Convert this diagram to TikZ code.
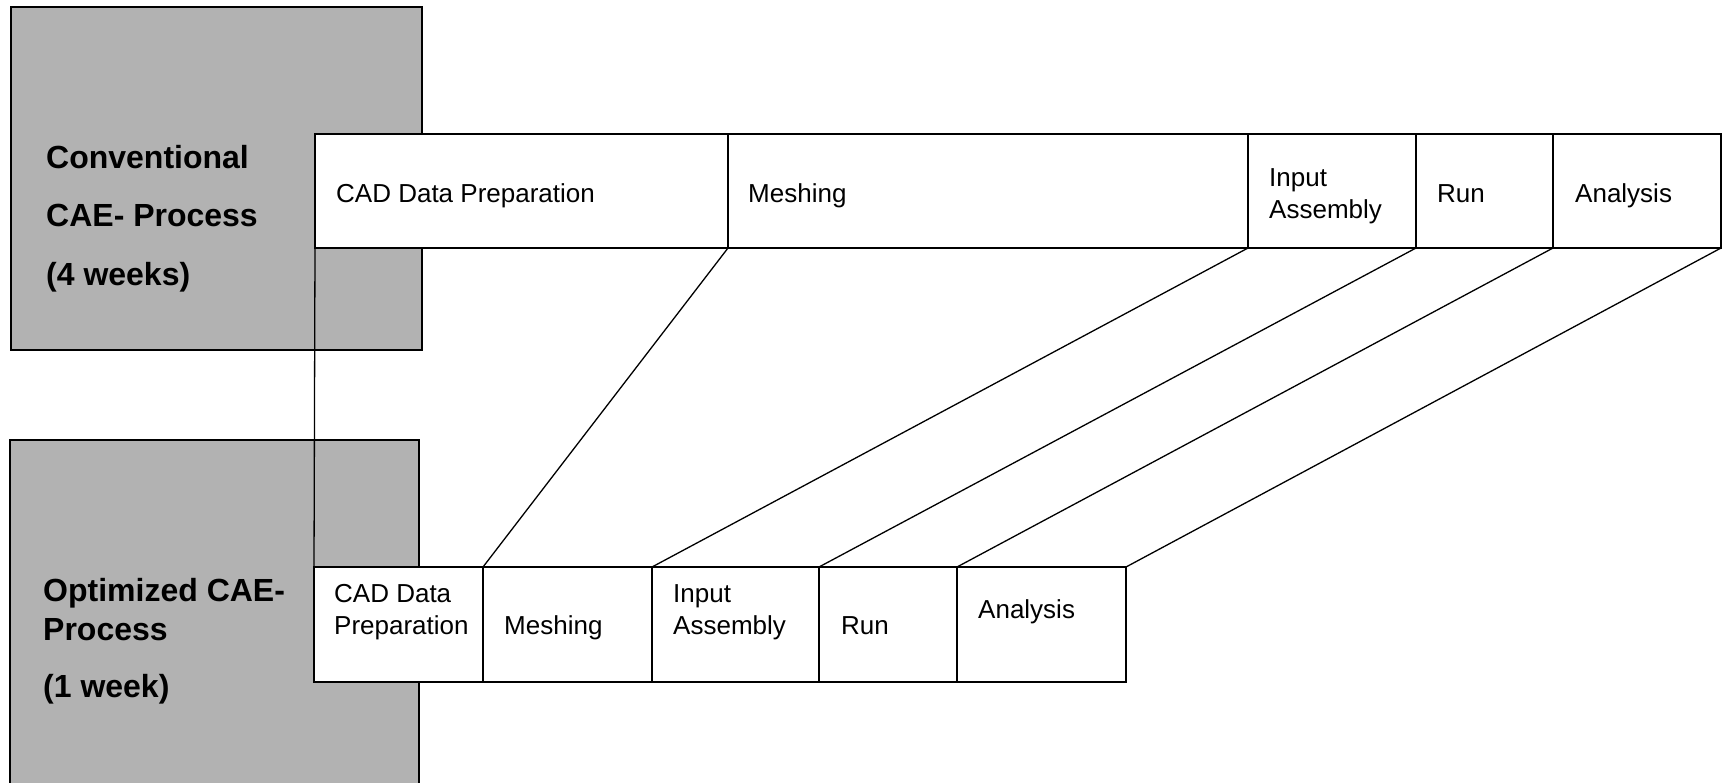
\documentclass[tikz,border=0pt]{standalone}
\usepackage{fontspec}
\setmainfont{Liberation Sans}
\definecolor{panelgray}{RGB}{178,178,178}
\begin{document}
\begin{tikzpicture}[x=1pt,y=-1pt,
  panel/.style={draw=black, line width=1.5pt, fill=panelgray, anchor=north west, inner sep=0pt, outer sep=0pt},
  cell/.style={draw=black, line width=1.3pt, fill=white, anchor=north west, inner sep=0pt, outer sep=0pt, minimum height=114pt},
  celltext/.style={anchor=base west, align=left, inner sep=0pt, font=\fontsize{26}{31.6}\selectfont},
  title/.style={anchor=base west, align=left, inner sep=0pt, font=\fontsize{32}{38.4}\selectfont\bfseries},
  link/.style={line width=1.3pt}]
\useasboundingbox (0,0) rectangle (1726,782);

% grey process panels
\node[panel, minimum width=411pt, minimum height=343pt] (conv) at (11,7) {};
\node[panel, minimum width=409pt, minimum height=350pt] (opt) at (10,440) {};
% multi-line labels are placed by the baseline of their last line
\node[title] (convlbl) at (46,285) {Conventional\\[20pt]CAE- Process\\[20pt](4 weeks)};
\node[title] (optlbl) at (43,697.5) {Optimized CAE-\\Process\\[19pt](1 week)};

% conventional process steps
\node[cell, minimum width=413pt] (t1) at (315,134) {};
\node[cell, minimum width=520pt] (t2) at (728,134) {};
\node[cell, minimum width=168pt] (t3) at (1248,134) {};
\node[cell, minimum width=137pt] (t4) at (1416,134) {};
\node[cell, minimum width=168pt] (t5) at (1553,134) {};

% optimized process steps
\node[cell, minimum width=169pt, minimum height=115pt] (b1) at (314,567) {};
\node[cell, minimum width=169pt, minimum height=115pt] (b2) at (483,567) {};
\node[cell, minimum width=167pt, minimum height=115pt] (b3) at (652,567) {};
\node[cell, minimum width=138pt, minimum height=115pt] (b4) at (819,567) {};
\node[cell, minimum width=169pt, minimum height=115pt] (b5) at (957,567) {};

% step labels
\node[celltext] (t1txt) at (336,202) {CAD Data Preparation};
\node[celltext] (t2txt) at (748,202) {Meshing};
\node[celltext] (t3txt) at (1269,218.5) {Input\\Assembly};
\node[celltext] (t4txt) at (1437,202) {Run};
\node[celltext] (t5txt) at (1575,202) {Analysis};

\node[celltext] (b1txt) at (334,634.5) {CAD Data\\Preparation};
\node[celltext] (b2txt) at (504,634.5) {Meshing};
\node[celltext] (b3txt) at (673,634.5) {Input\\Assembly};
\node[celltext] (b4txt) at (841,634.5) {Run};
\node[celltext] (b5txt) at (978,618.5) {Analysis};

% mapping between the two timelines
\draw[link] (t1.south west) -- (b1.north west);
\draw[link] (t2.south west) -- (b2.north west);
\draw[link] (t3.south west) -- (b3.north west);
\draw[link] (t4.south west) -- (b4.north west);
\draw[link] (t5.south west) -- (b5.north west);
\draw[link] (t5.south east) -- (b5.north east);
\end{tikzpicture}
\end{document}
